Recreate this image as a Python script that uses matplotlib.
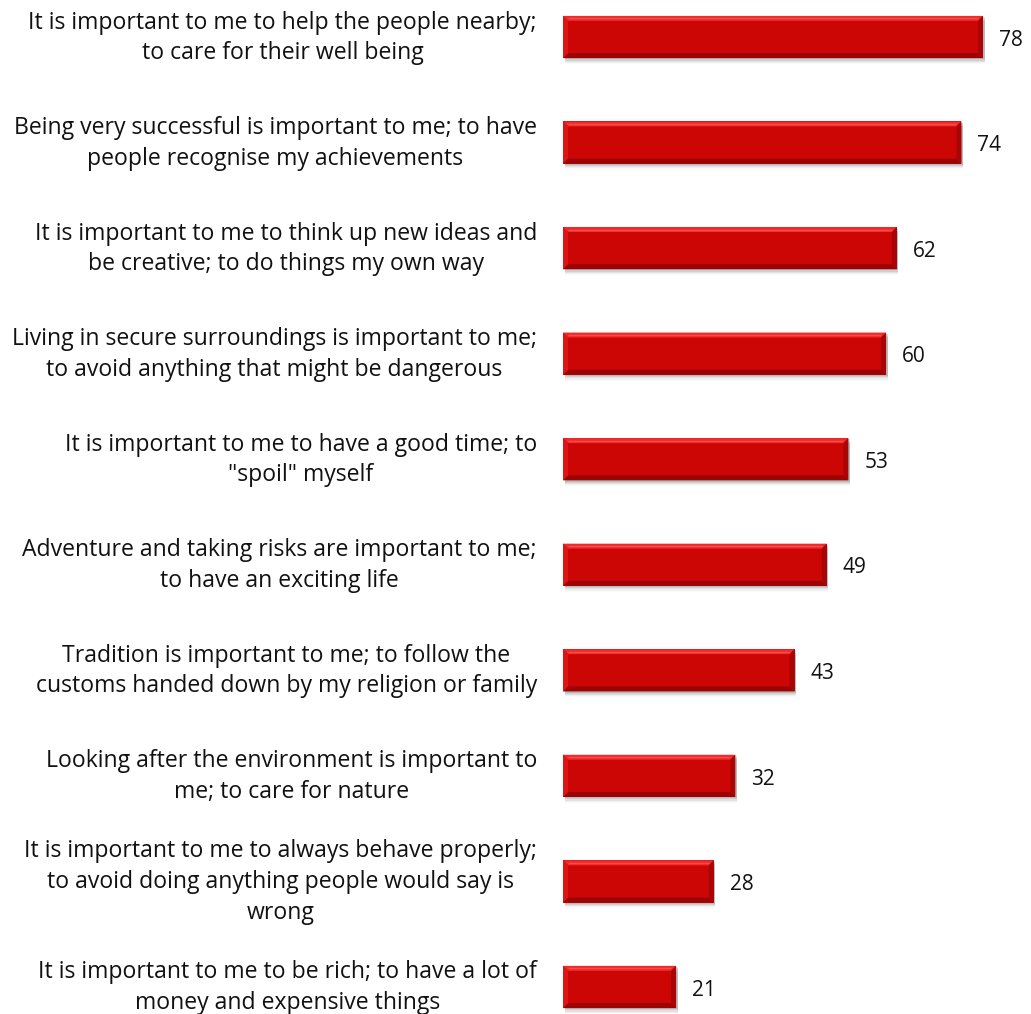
import matplotlib.pyplot as plt
import numpy as np
from matplotlib.patches import Polygon, Rectangle

plt.rcParams['font.family'] = ['Open Sans', 'DejaVu Sans']

labels = [
    'It is important to me to help the people nearby;\nto care for their well being',
    'Being very successful is important to me; to have\npeople recognise my achievements',
    'It is important to me to think up new ideas and\nbe creative; to do things my own way',
    'Living in secure surroundings is important to me;\nto avoid anything that might be dangerous',
    'It is important to me to have a good time; to\n"spoil" myself',
    'Adventure and taking risks are important to me;\nto have an exciting life',
    'Tradition is important to me; to follow the\ncustoms handed down by my religion or family',
    'Looking after the environment is important to\nme; to care for nature',
    'It is important to me to always behave properly;\nto avoid doing anything people would say is\nwrong',
    'It is important to me to be rich; to have a lot of\nmoney and expensive things',
]
values = [78, 74, 62, 60, 53, 49, 43, 32, 28, 21]

W, H = 1031, 1014
px_x = 5.385      # pixels per unit on x
px_y = 105.5      # pixels between bars
x0 = 563
xmax = (W - x0) / px_x

fig = plt.figure(figsize=(W / 100, H / 100), dpi=100)
ax = fig.add_axes([x0 / W, 0, 1 - x0 / W, 1])
ax.set_xlim(0, xmax)
ax.set_ylim(9 + (H - 987) / px_y, -37 / px_y)
ax.axis('off')

bh = 0.40
bx = 5 / px_x    # bevel width in x units
by = 5 / px_y    # bevel width in y units

for i, (lab, v) in enumerate(zip(labels, values)):
    top, bot = i - bh / 2, i + bh / 2
    # soft shadow under the bar
    for k, a in enumerate([0.10, 0.08, 0.06, 0.04, 0.02]):
        off = (k + 1) * 1.2
        ax.add_patch(Rectangle((0.3, top + off / px_y), v, bh, color='black',
                               alpha=a, lw=0, zorder=1))
    ax.add_patch(Rectangle((0, top), v, bh, facecolor='#cc0505', lw=0, zorder=2))
    # bevel edges
    ax.add_patch(Polygon([(0, top), (v, top), (v - bx, top + by), (bx, top + by)],
                         closed=True, facecolor='#ee2a2a', lw=0, zorder=3))
    ax.add_patch(Polygon([(0, bot), (v, bot), (v - bx, bot - by), (bx, bot - by)],
                         closed=True, facecolor='#9a0404', lw=0, zorder=3))
    ax.add_patch(Polygon([(0, top), (bx, top + by), (bx, bot - by), (0, bot)],
                         closed=True, facecolor='#dd1515', lw=0, zorder=3))
    ax.add_patch(Polygon([(v, top), (v - bx, top + by), (v - bx, bot - by), (v, bot)],
                         closed=True, facecolor='#a80606', lw=0, zorder=3))
    # thin highlight line inside the top bevel
    ax.plot([bx, v - bx], [top + by * 0.5, top + by * 0.5], color='#ff4a4a',
            lw=1, zorder=4, solid_capstyle='butt')

    ax.text(v + 16 / px_x, i + 0.03, str(v), ha='left', va='center', fontsize=15,
            color='#111111')
    fig.text(537 / W, 1 - (38 + i * px_y) / H, lab, ha='right', va='center',
             multialignment='center', fontsize=16.6, color='#111111', linespacing=1.38)

fig.savefig('out.png', dpi=100)
